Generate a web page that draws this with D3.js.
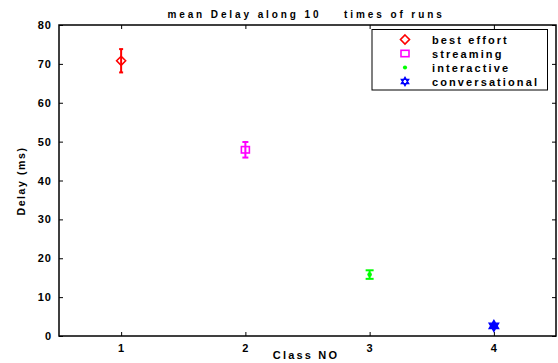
<!DOCTYPE html>
<html>
<head>
<meta charset="utf-8">
<script src="https://cdn.jsdelivr.net/npm/d3@7"></script>
<style>
  html, body { margin: 0; padding: 0; background: #fff; }
  svg text { font-family: "Liberation Sans", Arial, sans-serif; }
</style>
</head>
<body>
<svg id="chart" width="558" height="363"></svg>
<script>
// Class numbers and their service names
const classes = [1, 2, 3, 4];
const classNames = ["best effort", "streaming", "interactive", "conversational"];
// Mean delay (ms) over 10 runs and half-width of the error bar
const meanDelay = [70.8, 47.9, 15.8, 2.6];
const delayErr = [3.0, 2.0, 1.1, 0.5];
const colors = ["#ff0000", "#ff00ff", "#00ff00", "#0000ff"];
const markers = ["diamond", "square", "point", "hexagram"];
const yTicks = [0, 10, 20, 30, 40, 50, 60, 70, 80];

const svg = d3.select("#chart");
const m = { left: 59, right: 556, top: 25, bottom: 336 };

const x = d3.scaleLinear().domain([0.5, 4.5]).range([m.left, m.right]);
const y = d3.scaleLinear().domain([0, 80]).range([m.bottom, m.top]);

const tickFont = g => g.selectAll("text")
  .attr("font-size", 11).attr("font-weight", "bold")
  .attr("letter-spacing", "1px").attr("fill", "#000");

// Axes with inward ticks on all four sides
svg.append("g").attr("transform", `translate(0,${m.bottom})`)
  .call(d3.axisBottom(x).tickValues(classes).tickFormat(d3.format("d")).tickSizeInner(-4).tickSizeOuter(0).tickPadding(8))
  .call(g => g.select(".domain").remove())
  .call(tickFont);
svg.append("g").attr("transform", `translate(0,${m.top})`)
  .call(d3.axisTop(x).tickValues(classes).tickFormat("").tickSizeInner(-4).tickSizeOuter(0))
  .call(g => g.select(".domain").remove());
svg.append("g").attr("transform", `translate(${m.left},0)`)
  .call(d3.axisLeft(y).tickValues(yTicks).tickSizeInner(-4).tickSizeOuter(0).tickPadding(7))
  .call(g => g.select(".domain").remove())
  .call(tickFont);
svg.append("g").attr("transform", `translate(${m.right},0)`)
  .call(d3.axisRight(y).tickValues(yTicks).tickFormat("").tickSizeInner(-4).tickSizeOuter(0))
  .call(g => g.select(".domain").remove());
svg.selectAll(".tick line").attr("stroke", "#000");

// Plot frame
svg.append("rect")
  .attr("x", m.left).attr("y", m.top)
  .attr("width", m.right - m.left).attr("height", m.bottom - m.top)
  .attr("fill", "none").attr("stroke", "#000").attr("stroke-width", 1.5);

// Error bars
const capW = [2, 3, 4, 2];
const bars = svg.append("g");
classes.forEach((c, i) => {
  const cx = x(c);
  const y0 = y(meanDelay[i] - delayErr[i]);
  const y1 = y(meanDelay[i] + delayErr[i]);
  const g = bars.append("g").attr("stroke", colors[i]).attr("stroke-width", 2).attr("fill", "none");
  g.append("line").attr("x1", cx).attr("x2", cx).attr("y1", y0).attr("y2", y1);
  g.append("line").attr("x1", cx - capW[i]).attr("x2", cx + capW[i]).attr("y1", y0).attr("y2", y0);
  g.append("line").attr("x1", cx - capW[i]).attr("x2", cx + capW[i]).attr("y1", y1).attr("y2", y1);
});

// Marker drawing
function drawMarker(sel, type, color, cx, cy, scale) {
  const s = scale || 1;
  if (type === "diamond") {
    const r = 4.5 * s;
    sel.append("path").attr("d", `M${cx},${cy - r}L${cx + r},${cy}L${cx},${cy + r}L${cx - r},${cy}Z`)
      .attr("fill", "none").attr("stroke", color).attr("stroke-width", 1.6);
  } else if (type === "square") {
    const r = 4 * s;
    sel.append("rect").attr("x", cx - r).attr("y", cy - r * 0.8).attr("width", 2 * r).attr("height", 1.6 * r)
      .attr("fill", "none").attr("stroke", color).attr("stroke-width", 1.6);
  } else if (type === "point") {
    sel.append("circle").attr("cx", cx).attr("cy", cy).attr("r", 2.3 * s).attr("fill", color);
  } else if (type === "hexagram") {
    const r = 4.2 * s;
    const tri = a => d3.range(3).map(k => {
      const t = a + k * 2 * Math.PI / 3;
      return [cx + r * Math.cos(t), cy + r * Math.sin(t)];
    });
    const path = pts => "M" + pts.map(p => p.join(",")).join("L") + "Z";
    sel.append("path").attr("d", path(tri(-Math.PI / 2)) + path(tri(Math.PI / 2)))
      .attr("fill", s > 1 ? color : "none").attr("stroke", color).attr("stroke-width", 1.4);
  }
}

const pts = svg.append("g");
classes.forEach((c, i) => drawMarker(pts, markers[i], colors[i], x(c), y(meanDelay[i]), i === 3 ? 1.3 : 1));

// Title and axis labels
svg.append("text").attr("x", 306).attr("y", 18).attr("text-anchor", "middle")
  .attr("font-size", 10).attr("font-weight", "bold").attr("letter-spacing", "2.9px")
  .attr("xml:space", "preserve").style("white-space", "pre")
  .text("mean Delay along 10    times of runs");
svg.append("text").attr("x", 306).attr("y", 359).attr("text-anchor", "middle")
  .attr("font-size", 11).attr("font-weight", "bold").attr("letter-spacing", "2.2px")
  .text("Class NO");
svg.append("text").attr("transform", "translate(25,181) rotate(-90)").attr("text-anchor", "middle")
  .attr("font-size", 10.5).attr("font-weight", "bold").attr("letter-spacing", "1.6px")
  .text("Delay (ms)");

// Legend
const lg = svg.append("g");
lg.append("rect").attr("x", 372).attr("y", 29.5).attr("width", 175.5).attr("height", 60.5)
  .attr("fill", "#fff").attr("stroke", "#000").attr("stroke-width", 1);
const rowY = [39.5, 53.5, 67.5, 81.5];
classNames.forEach((name, i) => {
  drawMarker(lg, markers[i], colors[i], 405, rowY[i], i === 2 ? 0.9 : 1);
  lg.append("text").attr("x", 432).attr("y", rowY[i] + 4).attr("font-size", 11).attr("font-weight", "bold")
    .attr("letter-spacing", "2.1px").text(name);
});
</script>
</body>
</html>
